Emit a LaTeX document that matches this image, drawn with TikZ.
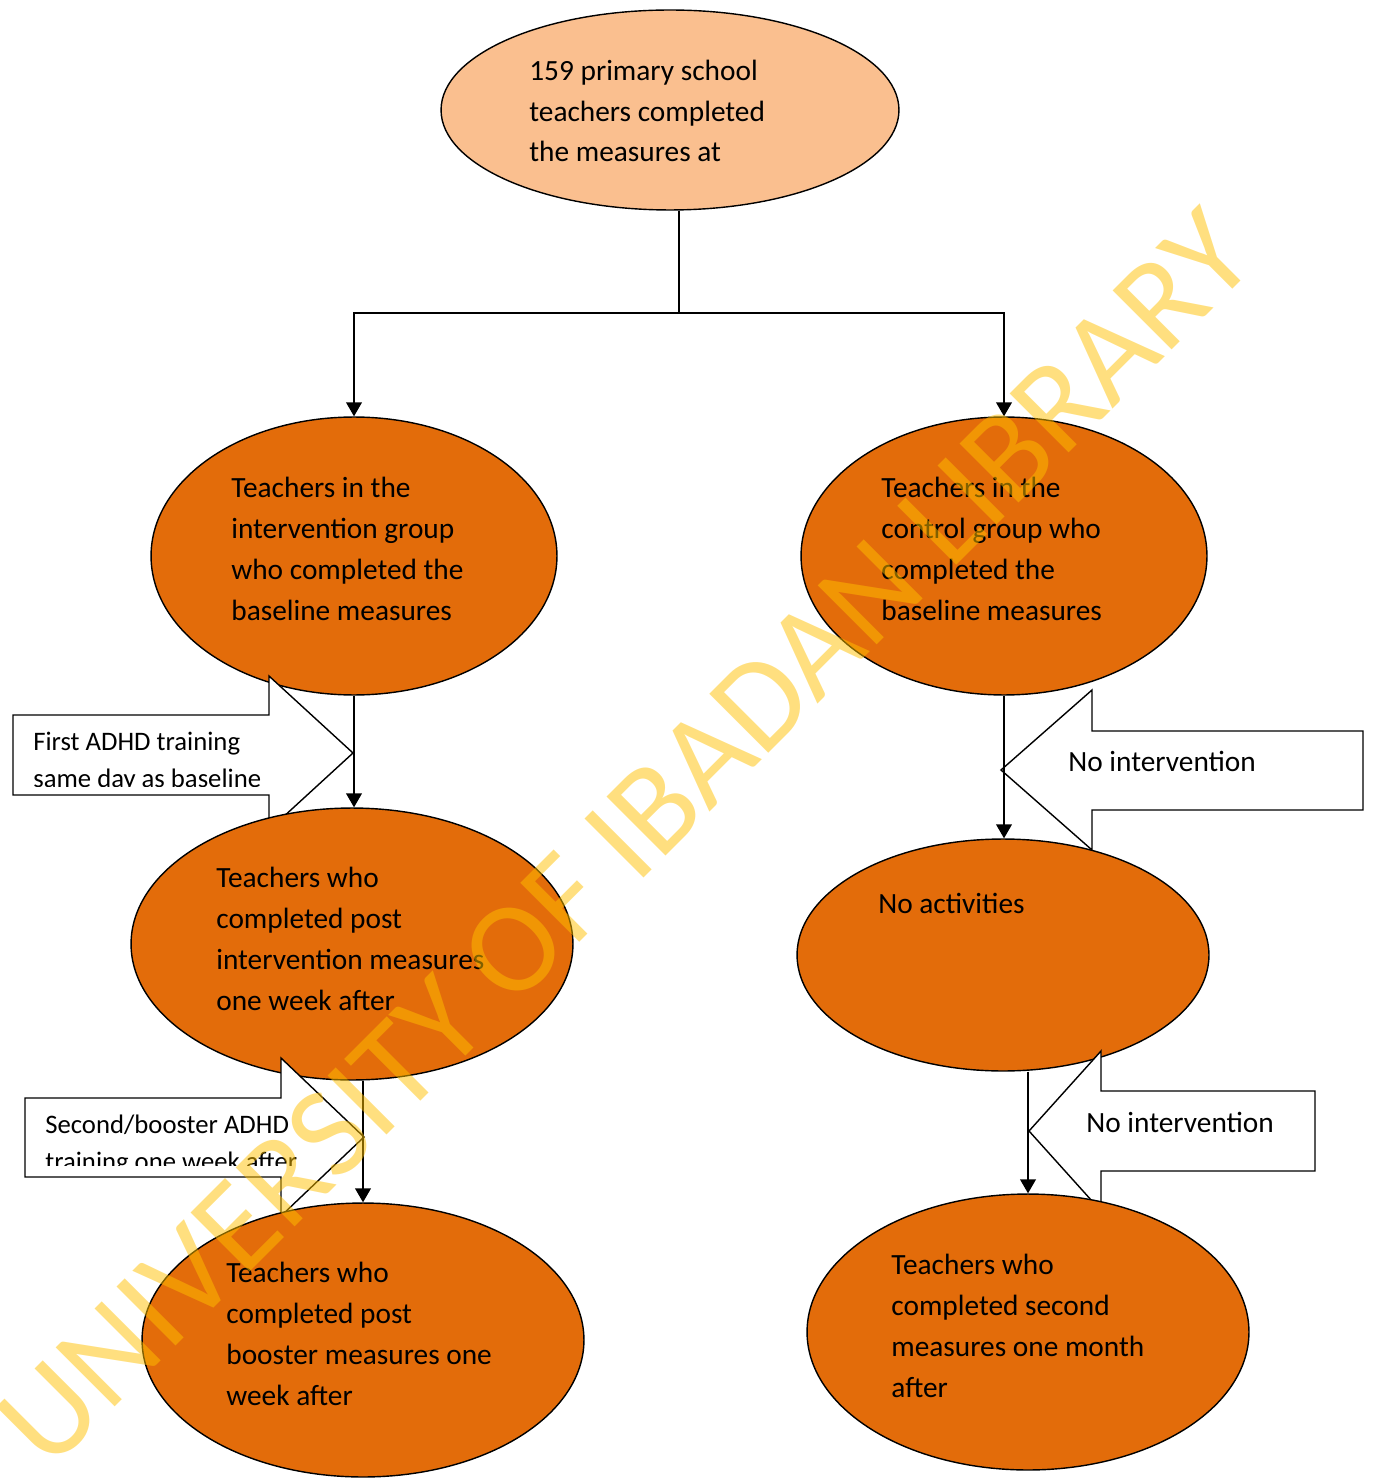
\documentclass[tikz,border=0pt]{standalone}
\usepackage{fontspec}
\setmainfont{Carlito}
\usetikzlibrary{shapes.geometric,arrows.meta}
\definecolor{peach}{HTML}{FABF8F}
\definecolor{burnt}{HTML}{E36C0A}
\definecolor{stamp}{HTML}{FFC000}

\begin{document}
\begin{tikzpicture}
  [x=0.02cm,y=-0.02cm,
    every node/.style={inner sep=0pt},
    blob/.style={ellipse,draw,line width=0.8pt,fill=burnt},
    words/.style={anchor=west,align=left,font=\fontsize{16.7}{23.2}\selectfont},
    note/.style={anchor=west,align=left,font=\fontsize{15.2}{21}\selectfont},
    link/.style={line width=0.9pt,-{Triangle[width=9pt,length=8pt]}},
    callout/.style={draw,line width=0.8pt,fill=white,line join=miter},
  ]
  \useasboundingbox (0,0) rectangle (1372,1479);

  % top
  \node[blob,fill=peach,minimum width=9.16cm,minimum height=4cm] (top) at (670,110) {};
  \node[words] (toptxt) at (529,111) {159 primary school\\teachers completed\\the measures at};

  % intervention branch
  \node[blob,minimum width=8.12cm,minimum height=5.56cm] (int1) at (354,556) {};
  \node[words] (int1txt) at (231,549) {Teachers in the\\intervention group\\who completed the\\baseline measures};

  \draw[callout] (13,715) -- (269,715) -- (269,676) -- (353,753) -- (269,830)
    -- (269,795) -- (13,795) -- cycle;
  \begin{scope}
    \clip (14,716) rectangle (360,786);
    \node[note] (train1) at (33,762) {First ADHD training\\same day as baseline};
  \end{scope}

  \node[blob,minimum width=8.84cm,minimum height=5.44cm] (int2) at (352,944) {};
  \node[words] (int2txt) at (216,939) {Teachers who\\completed post\\intervention measures\\one week after};

  \draw[callout] (25,1098) -- (281,1098) -- (281,1058) -- (364,1137) -- (281,1216)
    -- (281,1177) -- (25,1177) -- cycle;
  \begin{scope}
    \clip (26,1099) rectangle (360,1165);
    \node[note] (train2) at (45,1145) {Second/booster ADHD\\training one week after};
  \end{scope}

  \node[blob,minimum width=8.84cm,minimum height=5.48cm] (int3) at (363,1340) {};
  \node[words] (int3txt) at (226,1334) {Teachers who\\completed post\\booster measures one\\week after};

  % control branch
  \node[blob,minimum width=8.12cm,minimum height=5.56cm] (ctl1) at (1004,556) {};
  \node[words] (ctl1txt) at (881,549) {Teachers in the\\control group who\\completed the\\baseline measures};

  \draw[callout] (1363,731) -- (1092,731) -- (1092,690) -- (1001,770) -- (1092,850)
    -- (1092,810) -- (1363,810) -- cycle;
  \node[words] (none1) at (1068,761) {No intervention};

  \node[blob,minimum width=8.24cm,minimum height=4.64cm] (ctl2) at (1003,955) {};
  \node[words] (ctl2txt) at (878,903) {No activities};

  \draw[callout] (1315,1091) -- (1101,1091) -- (1101,1051) -- (1029,1131) -- (1101,1211)
    -- (1101,1171) -- (1315,1171) -- cycle;
  \node[words] (none2) at (1086,1122) {No intervention};

  \node[blob,minimum width=8.84cm,minimum height=5.52cm] (ctl3) at (1028,1332) {};
  \node[words] (ctl3txt) at (891,1326) {Teachers who\\completed second\\measures one month\\after};

  % connectors
  \coordinate (split) at (679,313);
  \draw[line width=0.9pt] (top.south -| split) -- (split);
  \draw[link] (split) -| (int1.north);
  \draw[link] (split) -| (ctl1.north);
  \draw[link] (int1.south) -- (int1.south |- int2.north);
  \draw[link] (int3.north |- int2.south) -- (int3.north);
  \draw[link] (ctl1.south) -- (ctl1.south |- ctl2.north);
  \draw[link] (ctl3.north |- ctl2.south) -- (ctl3.north);

  % watermark
  \node[rotate=45,text=stamp,opacity=0.5,font=\fontsize{74}{74}\selectfont] (mark) at (625,838) {UNIVERSITY OF IBADAN LIBRARY};
\end{tikzpicture}
\end{document}
